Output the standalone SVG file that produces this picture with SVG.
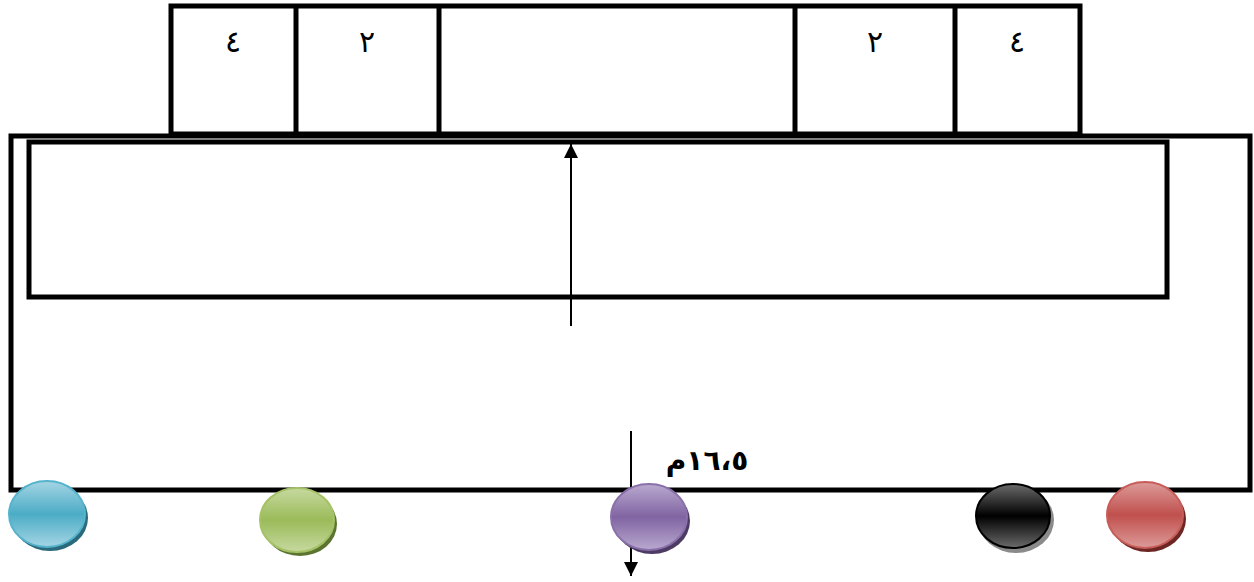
<svg xmlns="http://www.w3.org/2000/svg" width="1254" height="582" viewBox="0 0 1254 582">
<style>
.box{fill:none;stroke:#000;stroke-width:5}
.lbl{font-family:"DejaVu Sans",sans-serif;font-size:30px;fill:#000;text-anchor:middle}
.conn{stroke:#000;stroke-width:2;fill:none}
</style>
<defs>
<marker id="ah" markerWidth="14" markerHeight="14" refX="14" refY="7" orient="auto" markerUnits="userSpaceOnUse" viewBox="0 0 14 14">
<path d="M0,0 L14,7 L0,14 Z" fill="#000"/>
</marker>
<linearGradient id="gBlue" x1="0" y1="0" x2="0" y2="1"><stop offset="0" stop-color="#a5d5e4"/><stop offset="0.5" stop-color="#4bacc6"/><stop offset="1" stop-color="#a5d5e4"/></linearGradient>
<linearGradient id="gGreen" x1="0" y1="0" x2="0" y2="1"><stop offset="0" stop-color="#c6d9a0"/><stop offset="0.5" stop-color="#9bbb59"/><stop offset="1" stop-color="#c6d9a0"/></linearGradient>
<linearGradient id="gPurple" x1="0" y1="0" x2="0" y2="1"><stop offset="0" stop-color="#b9a9cf"/><stop offset="0.5" stop-color="#8064a2"/><stop offset="1" stop-color="#b9a9cf"/></linearGradient>
<linearGradient id="gBlack" x1="0" y1="0" x2="0" y2="1"><stop offset="0" stop-color="#6b6b6b"/><stop offset="0.5" stop-color="#000"/><stop offset="1" stop-color="#6b6b6b"/></linearGradient>
<linearGradient id="gRed" x1="0" y1="0" x2="0" y2="1"><stop offset="0" stop-color="#dc9b99"/><stop offset="0.5" stop-color="#c0504d"/><stop offset="1" stop-color="#dc9b99"/></linearGradient>
</defs>

<g id="top-boxes">
<rect class="box" x="171" y="6" width="909" height="128"/>
<line class="box" x1="296" y1="6" x2="296" y2="134"/>
<line class="box" x1="439" y1="6" x2="439" y2="134"/>
<line class="box" x1="795" y1="6" x2="795" y2="134"/>
<line class="box" x1="955" y1="6" x2="955" y2="134"/>
<text class="lbl" x="233" y="52">٤</text>
<text class="lbl" x="367" y="52">٢</text>
<text class="lbl" x="875" y="52">٢</text>
<text class="lbl" x="1017" y="52">٤</text>
</g>

<g id="outer-rect"><rect class="box" x="11" y="136" width="1239" height="354"/></g>
<g id="inner-rect"><rect class="box" x="29" y="142" width="1138" height="155"/></g>

<g id="connectors">
<line class="conn" x1="571" y1="326" x2="571" y2="144" marker-end="url(#ah)"/>
<line class="conn" x1="631" y1="431" x2="631" y2="576" marker-end="url(#ah)"/>
</g>

<g id="label-16-5"><text x="707" y="470" font-family="DejaVu Sans,sans-serif" font-size="28" font-weight="bold" letter-spacing="2" text-anchor="middle">١٦،٥م</text></g>

<g id="circle-blue">
<ellipse cx="50" cy="518" rx="38" ry="33" fill="#2b6a7c"/>
<ellipse cx="47" cy="514" rx="38" ry="33" fill="url(#gBlue)" stroke="#55b3cc" stroke-width="2"/>
</g>
<g id="circle-green">
<ellipse cx="300" cy="524" rx="37" ry="32" fill="#5b7530"/>
<ellipse cx="297" cy="520" rx="37" ry="32" fill="url(#gGreen)" stroke="#a5c266" stroke-width="2"/>
</g>
<g id="circle-purple">
<ellipse cx="652" cy="521" rx="38" ry="33" fill="#4d3b63"/>
<ellipse cx="649" cy="517" rx="38" ry="33" fill="url(#gPurple)" stroke="#8a70aa" stroke-width="2"/>
</g>
<g id="circle-black">
<ellipse cx="1016" cy="520" rx="38" ry="33" fill="#8a8a8a"/>
<ellipse cx="1013" cy="516" rx="37" ry="32" fill="url(#gBlack)" stroke="#000" stroke-width="2"/>
</g>
<g id="circle-red">
<ellipse cx="1148" cy="519" rx="38" ry="33" fill="#6e2624"/>
<ellipse cx="1145" cy="515" rx="38" ry="33" fill="url(#gRed)" stroke="#c75c59" stroke-width="2"/>
</g>
</svg>
